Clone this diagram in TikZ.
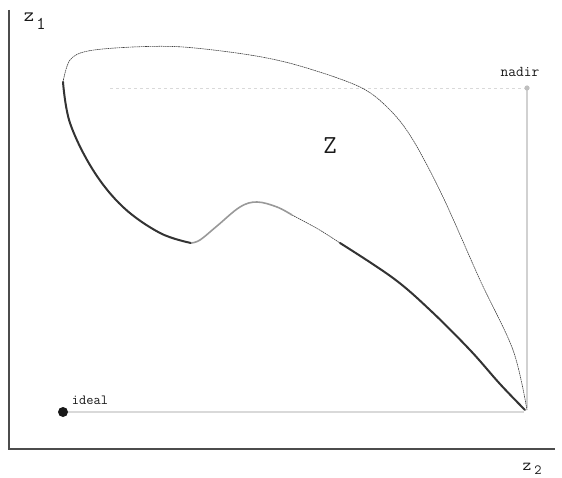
\documentclass[tikz,border=0pt]{standalone}
\begin{document}
\begin{tikzpicture}[x=1pt,y=-1pt,
  axis/.style={line width=2pt,draw=black!70},
  thinb/.style={line width=0.6pt,draw=black!75,dash pattern=on 1.6pt off 0.6pt},
  darkb/.style={line width=2pt,draw=black!80,line cap=round},
  lightb/.style={line width=1.6pt,draw=black!40},
  guide/.style={line width=1.6pt,draw=black!18},
  faint/.style={line width=0.8pt,draw=black!15,dash pattern=on 3pt off 3pt},
  lab/.style={font=\ttfamily, text=black!90, inner sep=0pt}]
\useasboundingbox (0,0) rectangle (562,478);
% axes
\coordinate (O) at (9,449);
\coordinate (ytop) at (9,10);
\coordinate (xend) at (555,449);
\draw[axis] (ytop) -- (O) -- (xend);
\node[lab,font=\ttfamily\fontsize{20}{20}\selectfont] (z1) at (29,17) {z};
\node[lab,font=\ttfamily\fontsize{18}{18}\selectfont] (z1s) at (41,24) {1};
\node[lab,font=\ttfamily\fontsize{17}{17}\selectfont] (z2) at (527,467) {z};
\node[lab,font=\ttfamily\fontsize{14}{14}\selectfont] (z2s) at (538,470) {2};
% guides
\coordinate (nad) at (527,88);
\coordinate (nadlow) at (527,408);
\coordinate (idl) at (63,412);
\coordinate (idr) at (524,412);
\coordinate (hl) at (110,88);
\draw[faint] (hl) -- (nad);
\draw[guide] (nad) -- (nadlow);
\fill[black!25] (nad) circle (2.6pt);
\draw[guide,draw=black!15] (idl) -- (idr);
\fill[black!90] (idl) circle (5pt);
\node[lab,font=\ttfamily\fontsize{15}{15}\selectfont] (nadir) at (520,72) {nadir};
\node[lab,font=\ttfamily\fontsize{14}{14}\selectfont] (ideal) at (90,400) {ideal};
\node[lab,font=\ttfamily\fontsize{26}{26}\selectfont] (Z) at (330,146) {Z};
% region boundary
\draw[thinb] plot[smooth,tension=0.55] coordinates {(63,82) (70,60) (88,51) (133,47) (183,47) (250,55) (300,66) (360,87) (390,110) (413,140) (443,197) (480,280) (513,350) (527,410)};
\draw[darkb] plot[smooth,tension=0.6] coordinates {(63,82) (70,123) (93,170) (123,207) (160,233) (191,243)};
\draw[lightb] plot[smooth,tension=0.6] coordinates {(191,243) (200,240) (217,226) (240,207) (257,202) (277,207) (292,215)};
\draw[thinb] plot[smooth,tension=0.6] coordinates {(292,215) (318,229) (340,243)};
\draw[darkb] plot[smooth,tension=0.6] coordinates {(340,243) (393,278) (430,310) (470,350) (500,384) (525,410)};
\end{tikzpicture}
\end{document}
